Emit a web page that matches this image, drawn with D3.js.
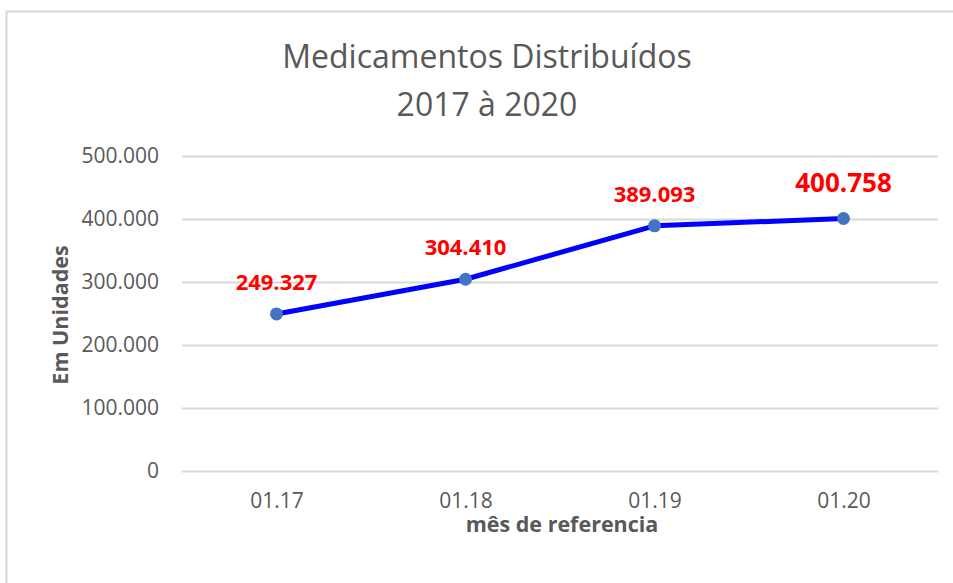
<!DOCTYPE html>
<html>
<head>
<meta charset="utf-8">
<script src="https://cdn.jsdelivr.net/npm/d3@7"></script>
<style>
  body { margin: 0; background: #fff; }
  text { font-family: "Open Sans", "Liberation Sans", sans-serif; }
</style>
</head>
<body>
<div id="chart"></div>
<script>
// DATA
const meses = ["01.17", "01.18", "01.19", "01.20"];
const valores = [249327, 304410, 389093, 400758];
const rotulos = ["249.327", "304.410", "389.093", "400.758"];
const yTicks = [0, 100000, 200000, 300000, 400000, 500000];

// MAKE SVG CANVAS
const width = 953, height = 583;
const margin = {top: 156, left: 182, right: 15, bottom: 112};
const svg = d3.select("#chart")
    .append("svg")
    .attr("width", width)
    .attr("height", height);

// chart frame
svg.append("rect")
    .attr("x", 6.5).attr("y", 11.5)
    .attr("width", 960).attr("height", 600)
    .attr("fill", "#fff")
    .attr("stroke", "#d9d9d9")
    .attr("stroke-width", 2);

// SCALES
const xScale = d3.scalePoint()
    .domain(meses)
    .range([margin.left, width - margin.right])
    .padding(0.5);

const yScale = d3.scaleLinear()
    .domain([0, 500000])
    .range([height - margin.bottom, margin.top]);

const fmt = v => d3.format(",")(v).replace(/,/g, ".");

// GRID + Y AXIS
const yAxis = svg.append("g")
    .attr("transform", `translate(${margin.left},0)`)
    .call(d3.axisLeft(yScale)
        .tickValues(yTicks)
        .tickSize(-(width - margin.left - margin.right))
        .tickPadding(23)
        .tickFormat(fmt));
yAxis.select(".domain").remove();
yAxis.selectAll("line").attr("stroke", "#d9d9d9").attr("stroke-width", 2);
yAxis.selectAll("text").attr("fill", "#595959").style("font-size", "21px");

// X AXIS
const xAxis = svg.append("g")
    .attr("transform", `translate(0,${height - margin.bottom})`)
    .call(d3.axisBottom(xScale).tickSize(0).tickPadding(22));
xAxis.select(".domain").remove();
xAxis.selectAll("text").attr("fill", "#595959").style("font-size", "21px");

// TITLES
svg.append("text")
    .attr("x", 487).attr("y", 68)
    .attr("text-anchor", "middle")
    .attr("fill", "#595959")
    .style("font-size", "32px")
    .text("Medicamentos Distribuídos");
svg.append("text")
    .attr("x", 487).attr("y", 116)
    .attr("text-anchor", "middle")
    .attr("fill", "#595959")
    .style("font-size", "32px")
    .text("2017 à 2020");

svg.append("text")
    .attr("x", 562).attr("y", 532)
    .attr("text-anchor", "middle")
    .attr("fill", "#595959")
    .style("font-size", "21.5px")
    .style("font-weight", "bold")
    .text("mês de referencia");

svg.append("text")
    .attr("transform", "rotate(-90)")
    .attr("x", -315).attr("y", 68)
    .attr("text-anchor", "middle")
    .attr("fill", "#595959")
    .style("font-size", "21.5px")
    .style("font-weight", "bold")
    .text("Em Unidades");

// LINE
const line = d3.line()
    .x((d, i) => xScale(meses[i]))
    .y(d => yScale(d));

svg.append("path")
    .datum(valores)
    .attr("d", line)
    .attr("fill", "none")
    .attr("stroke", "#0000ff")
    .attr("stroke-width", 5)
    .attr("stroke-linejoin", "round");

svg.selectAll("circle.pt")
    .data(valores)
    .enter()
    .append("circle")
    .attr("class", "pt")
    .attr("cx", (d, i) => xScale(meses[i]))
    .attr("cy", d => yScale(d))
    .attr("r", 6.5)
    .attr("fill", "#4472c4");

// DATA LABELS
svg.selectAll("text.lbl")
    .data(valores)
    .enter()
    .append("text")
    .attr("class", "lbl")
    .attr("x", (d, i) => xScale(meses[i]))
    .attr("y", (d, i) => yScale(d) - (i === 3 ? 27 : 24))
    .attr("text-anchor", "middle")
    .attr("fill", "#ff0000")
    .style("font-weight", "bold")
    .style("font-size", (d, i) => i === 3 ? "26px" : "22px")
    .text((d, i) => rotulos[i]);
</script>
</body>
</html>
